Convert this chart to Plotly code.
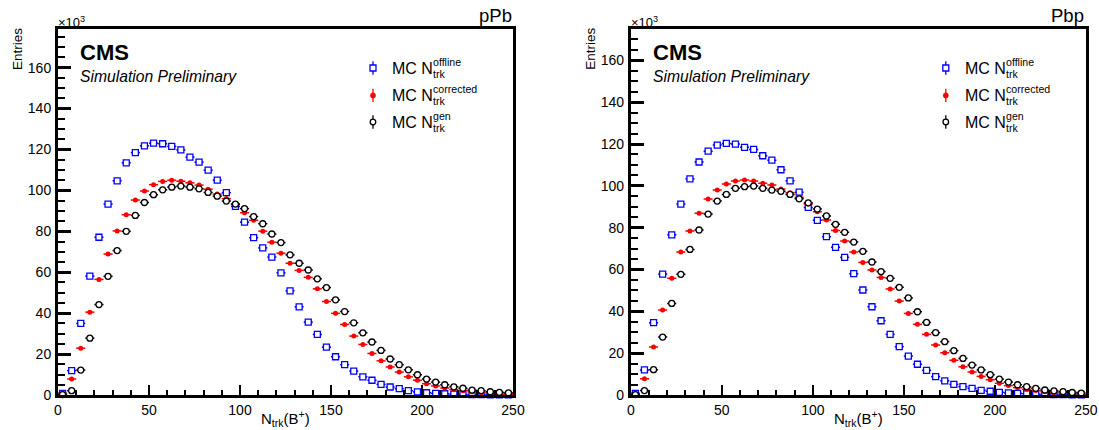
import plotly.graph_objects as go

W, H = 1099, 430

# ---------------- data (entries in units of 10^3) ----------------
bin_centers = [2.5, 7.5, 12.5, 17.5, 22.5, 27.5, 32.5, 37.5, 42.5, 47.5,
               52.5, 57.5, 62.5, 67.5, 72.5, 77.5, 82.5, 87.5, 92.5, 97.5,
               102.5, 107.5, 112.5, 117.5, 122.5, 127.5, 132.5, 137.5, 142.5, 147.5,
               152.5, 157.5, 162.5, 167.5, 172.5, 177.5, 182.5, 187.5, 192.5, 197.5,
               202.5, 207.5, 212.5, 217.5, 222.5, 227.5, 232.5, 237.5, 242.5, 247.5]

ppb_offline = [0.8, 11.9, 35.0, 58.1, 77.1, 93.3, 104.7, 113.5, 118.5, 121.8,
               123.1, 122.8, 121.5, 119.8, 116.3, 113.8, 109.9, 105.0, 98.9, 92.2,
               84.5, 76.9, 71.9, 67.4, 59.7, 50.9, 43.1, 35.6, 29.6, 23.4,
               18.7, 14.8, 11.7, 8.9, 7.2, 5.2, 3.9, 3.1, 2.1, 1.5,
               1.1, 0.8, 0.6, 0.4, 0.3, 0.2, 0.15, 0.1, 0.07, 0.05]
ppb_corrected = [0.8, 7.8, 22.9, 40.5, 56.5, 68.9, 80.2, 88.1, 95.3, 99.7,
                 102.8, 104.4, 105.0, 104.5, 103.7, 102.6, 100.6, 98.2, 96.0, 93.2,
                 89.1, 85.4, 80.1, 74.7, 69.3, 64.4, 60.9, 57.5, 51.9, 45.7,
                 39.9, 34.5, 28.8, 24.7, 20.3, 16.7, 13.7, 11.2, 8.9, 7.2,
                 5.5, 4.4, 3.4, 2.6, 2.1, 1.5, 1.1, 0.8, 0.5, 0.3]
ppb_gen = [0.2, 2.1, 12.2, 27.8, 44.2, 58.0, 70.6, 80.0, 87.8, 94.1,
           97.9, 100.3, 101.6, 102.1, 101.6, 100.8, 99.0, 97.2, 94.8, 93.3,
           91.1, 87.2, 83.7, 78.7, 74.5, 68.5, 64.4, 61.1, 56.8, 52.5,
           46.5, 40.8, 35.3, 30.4, 25.9, 21.8, 17.6, 14.8, 12.3, 9.9,
           7.8, 6.3, 5.0, 4.0, 3.3, 2.4, 2.1, 1.6, 1.3, 1.0]

pbp_offline = [0.8, 12.0, 34.6, 57.8, 76.6, 91.3, 103.3, 111.4, 116.6, 119.5,
               120.3, 120.0, 118.4, 117.4, 114.4, 112.3, 107.7, 102.4, 97.0, 89.7,
               83.5, 75.7, 70.6, 65.8, 58.0, 50.2, 42.2, 35.5, 29.0, 23.1,
               18.6, 14.7, 11.8, 8.8, 6.8, 5.1, 4.0, 3.2, 2.2, 1.8,
               1.3, 1.0, 0.8, 0.6, 0.4, 0.3, 0.2, 0.15, 0.1, 0.07]
pbp_corrected = [0.6, 7.8, 22.9, 40.6, 55.8, 68.4, 78.4, 86.9, 93.7, 98.0,
                 100.9, 102.3, 102.8, 102.3, 101.2, 100.4, 98.5, 96.7, 94.6, 91.3,
                 87.6, 83.7, 78.7, 73.6, 68.4, 63.4, 59.8, 56.2, 50.7, 44.9,
                 39.0, 33.8, 29.0, 23.9, 20.2, 16.6, 13.5, 11.0, 8.9, 7.3,
                 5.6, 4.5, 3.5, 2.7, 2.1, 1.6, 1.1, 0.8, 0.6, 0.4]
pbp_gen = [0.2, 2.1, 12.1, 27.7, 43.8, 57.7, 69.6, 78.9, 86.5, 92.7,
           95.9, 98.8, 99.6, 99.9, 98.8, 98.0, 97.4, 95.9, 93.8, 91.9,
           88.9, 85.6, 81.6, 77.8, 73.1, 68.7, 63.6, 59.0, 55.8, 51.5,
           46.4, 39.8, 34.7, 29.8, 25.5, 21.2, 17.5, 14.3, 12.0, 9.7,
           7.6, 6.2, 4.9, 4.0, 3.2, 2.4, 2.0, 1.6, 1.2, 0.9]

panel_labels = ["pPb", "Pbp"]
series_sup = ["offline", "corrected", "gen"]
x_tick_vals = [0, 50, 100, 150, 200, 250]
y_tick_vals = [0, 20, 40, 60, 80, 100, 120, 140, 160]

# ---------------- styling / layout helpers ----------------
FONT = "Liberation Sans, Arial, Helvetica, sans-serif"
BLUE, RED, BLACK = "#0000ff", "#ff0000", "#000000"

def px(x):
    return x / W

def py(y):
    return 1 - y / H

panels = [
    dict(x0=58.0, x1=513.0, ymax=178.9, data=(ppb_offline, ppb_corrected, ppb_gen)),
    dict(x0=630.8, x1=1085.8, ymax=175.0, data=(pbp_offline, pbp_corrected, pbp_gen)),
]
Y_TOP, Y_BOT = 29.0, 395.0

fig = go.Figure()
annotations = []
shapes = []

styles = [
    dict(symbol="square", size=6, color="white", line=dict(color=BLUE, width=1.3), ecol=BLUE),
    dict(symbol="circle", size=5, color=RED, line=dict(color=RED, width=0), ecol=RED),
    dict(symbol="circle", size=6, color="white", line=dict(color=BLACK, width=1.3), ecol=BLACK),
]

for i, p in enumerate(panels):
    xa = "x" if i == 0 else "x2"
    ya = "y" if i == 0 else "y2"
    for vals, st in zip(p["data"], styles):
        fig.add_trace(go.Scatter(
            x=bin_centers, y=vals, mode="markers", xaxis=xa, yaxis=ya,
            cliponaxis=False, showlegend=False,
            marker=dict(symbol=st["symbol"], size=st["size"], color=st["color"], line=st["line"]),
            error_x=dict(type="constant", value=2.5, color=st["ecol"], thickness=1.5, width=0),
        ))

    axkey = "xaxis" if i == 0 else "xaxis2"
    aykey = "yaxis" if i == 0 else "yaxis2"
    fig.update_layout(**{
        axkey: dict(
            domain=[px(p["x0"]), px(p["x1"])], range=[0, 250], anchor=ya, automargin=False,
            tickmode="array", tickvals=x_tick_vals, ticks="inside", ticklen=10, tickwidth=2,
            tickcolor=BLACK, minor=dict(ticks="inside", ticklen=5, tickwidth=1.5, dtick=10,
                                        tick0=0, tickcolor=BLACK),
            showline=True, linewidth=3, linecolor=BLACK, mirror=True,
            showgrid=False, zeroline=False,
            tickfont=dict(family=FONT, size=14, color=BLACK),
        ),
        aykey: dict(
            domain=[py(Y_BOT), py(Y_TOP)], range=[0, p["ymax"]], anchor=xa, automargin=False,
            tickmode="array", tickvals=y_tick_vals, ticks="inside", ticklen=13, tickwidth=2.5,
            tickcolor=BLACK, minor=dict(ticks="inside", ticklen=7, tickwidth=2, dtick=5,
                                        tick0=0, tickcolor=BLACK),
            showline=True, linewidth=3, linecolor=BLACK, mirror=True,
            showgrid=False, zeroline=False, ticklabelstandoff=1,
            tickfont=dict(family=FONT, size=14, color=BLACK),
        ),
    })

    off = p["x0"] - 58.0

    def txt(text, x, baseline, size, xanchor="left", bold=False, italic=False, angle=0):
        t = text
        if bold:
            t = "<b>" + t + "</b>"
        if italic:
            t = "<i>" + t + "</i>"
        annotations.append(dict(
            text=t, x=px(x), y=py(baseline + 0.212 * size), xref="paper", yref="paper",
            xanchor=xanchor, yanchor="bottom", showarrow=False, borderpad=0,
            font=dict(family=FONT, size=size, color=BLACK), textangle=angle,
        ))

    # CMS labels
    txt("CMS", 79 + off, 61.7, 22, bold=True)
    txt("Simulation Preliminary", 79 + off, 82.7, 15.7, italic=True)
    # x10^3
    txt("×10<sup>3</sup>", 57 + off, 28.3, 13)
    # panel label
    txt(panel_labels[i], p["x1"] - 0.5, 22.7, 18.5, xanchor="right")
    # y title (rotated)
    annotations.append(dict(
        text="Entries", x=px(17 + off), y=py(49), xref="paper", yref="paper",
        xanchor="center", yanchor="middle", showarrow=False, textangle=-90, borderpad=0,
        font=dict(family=FONT, size=13.5, color=BLACK),
    ))
    # x title
    annotations.append(dict(
        text="N<sub>trk</sub>(B<sup>+</sup>)", x=px((p["x0"] + p["x1"]) / 2), y=py(418),
        xref="paper", yref="paper", xanchor="center", yanchor="middle", showarrow=False,
        borderpad=0, font=dict(family=FONT, size=15, color=BLACK),
    ))

    # legend
    base_rows = [74.3, 101.7, 128.3]
    mx = 373 + off
    for r, (st, sup) in enumerate(zip(styles, series_sup)):
        b = base_rows[r]
        cy = b - 6.3
        shapes.append(dict(type="line", xref="paper", yref="paper",
                           x0=px(mx), x1=px(mx), y0=py(cy - 6.7), y1=py(cy + 6.7),
                           line=dict(color=st["ecol"], width=1.3)))
        if r == 0:
            shapes.append(dict(type="rect", xref="paper", yref="paper",
                               x0=px(mx - 3), x1=px(mx + 3), y0=py(cy - 3), y1=py(cy + 3),
                               fillcolor="white", line=dict(color=BLUE, width=1.3)))
        elif r == 1:
            shapes.append(dict(type="circle", xref="paper", yref="paper",
                               x0=px(mx - 2.6), x1=px(mx + 2.6), y0=py(cy - 2.6), y1=py(cy + 2.6),
                               fillcolor=RED, line=dict(color=RED, width=0.5)))
        else:
            shapes.append(dict(type="circle", xref="paper", yref="paper",
                               x0=px(mx - 2.8), x1=px(mx + 2.8), y0=py(cy - 2.8), y1=py(cy + 2.8),
                               fillcolor="white", line=dict(color=BLACK, width=1.3)))
        txt("MC N", 390.7 + off, b, 16)
        txt(sup, 431.8 + off, b - 7.6, 10.6)
        txt("trk", 431.8 + off, b + 4.0, 10.6)

fig.update_layout(
    width=W, height=H, margin=dict(l=0, r=0, t=0, b=0),
    paper_bgcolor="white", plot_bgcolor="white",
    annotations=annotations, shapes=shapes, showlegend=False,
    font=dict(family=FONT, color=BLACK),
)

fig.write_html("out.html")
